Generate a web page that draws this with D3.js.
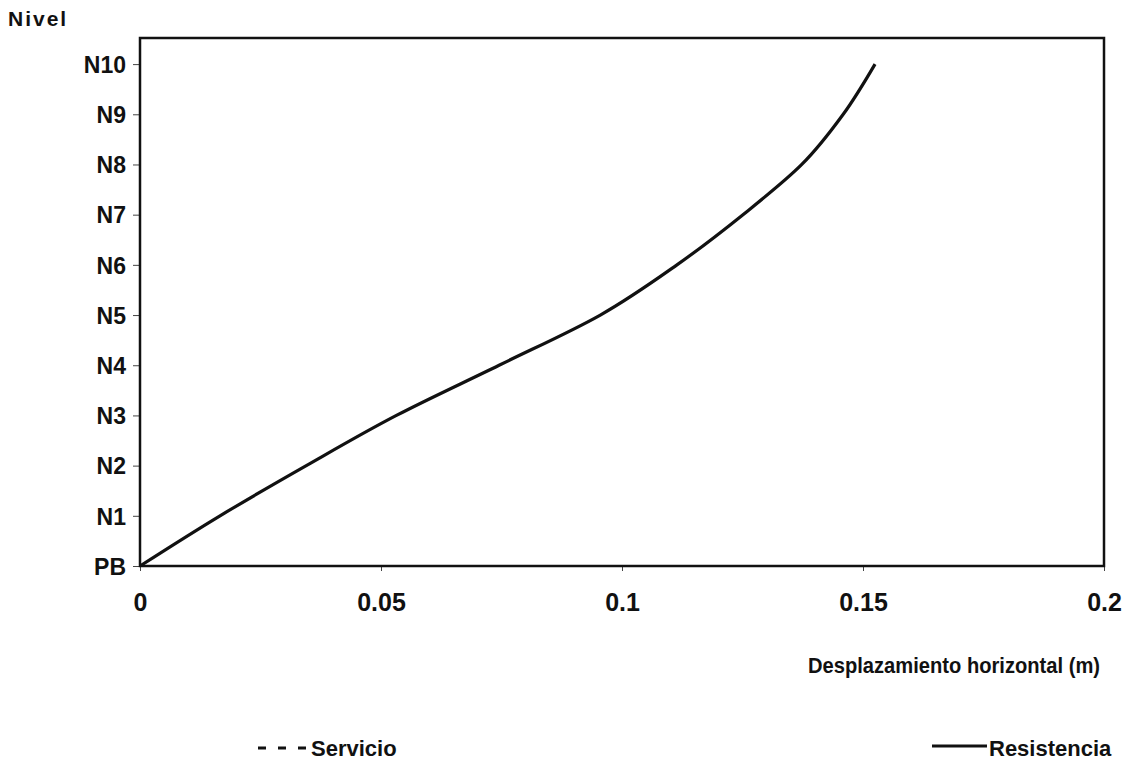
<!DOCTYPE html>
<html>
<head>
<meta charset="utf-8">
<script src="https://cdn.jsdelivr.net/npm/d3@7"></script>
<style>
  body { margin: 0; background: #fff; }
  text { font-family: "Liberation Sans", Arial, sans-serif; font-weight: bold; fill: #111; }
</style>
</head>
<body>
<div id="chart"></div>
<script>
// level labels (PB = planta baja) and their index along the y axis
var levels = ['PB', 'N1', 'N2', 'N3', 'N4', 'N5', 'N6', 'N7', 'N8', 'N9', 'N10']
// horizontal displacement (m) for the "Resistencia" series, one per level
var resistencia = [0, 0.0166, 0.0345, 0.0532, 0.0745, 0.0955, 0.1114, 0.1251, 0.1373, 0.1459, 0.1525]
var xTicks = [0, 0.05, 0.1, 0.15, 0.2]
var legendItems = ['Servicio', 'Resistencia']

const width = 1131
const height = 769
const margin = { top: 38, right: 27, bottom: 203, left: 140 }

var svg = d3.select('#chart')
  .append('svg')
  .attr('width', width)
  .attr('height', height)

var x = d3.scaleLinear()
  .domain([0, 0.2])
  .range([margin.left, width - margin.right])

var y = d3.scaleLinear()
  .domain([0, 10.52])
  .range([height - margin.bottom, margin.top])

// y axis with level names
var yAxis = d3.axisLeft(y)
  .tickValues(d3.range(levels.length))
  .tickFormat(i => levels[i])
  .tickSize(7)
  .tickPadding(7)

svg.append('g')
  .attr('transform', 'translate(' + margin.left + ',0)')
  .call(yAxis)
  .call(g => g.select('.domain').remove())
  .call(g => g.selectAll('line').attr('stroke', '#444').attr('stroke-width', 1))
  .call(g => g.selectAll('text').attr('font-size', 23).attr('dy', '0.36em'))

var xAxis = d3.axisBottom(x)
  .tickValues(xTicks)
  .tickFormat(d => String(d))
  .tickSize(5)
  .tickPadding(22)

svg.append('g')
  .attr('transform', 'translate(0,' + (height - margin.bottom) + ')')
  .call(xAxis)
  .call(g => g.select('.domain').remove())
  .call(g => g.selectAll('line').attr('stroke', '#444').attr('stroke-width', 1))
  .call(g => g.selectAll('text').attr('font-size', 25))

// plot frame
svg.append('rect')
  .attr('x', x(0))
  .attr('y', y(10.52))
  .attr('width', x(0.2) - x(0))
  .attr('height', y(0) - y(10.52))
  .attr('fill', 'none')
  .attr('stroke', '#111')
  .attr('stroke-width', 2.5)

// Resistencia curve
var line = d3.line()
  .x(d => x(d))
  .y((d, i) => y(i))
  .curve(d3.curveMonotoneY)

svg.append('path')
  .datum(resistencia)
  .attr('d', line)
  .attr('fill', 'none')
  .attr('stroke', '#111')
  .attr('stroke-width', 3.2)

// axis titles
svg.append('text')
  .attr('x', 8)
  .attr('y', 26)
  .attr('font-size', 21)
  .attr('letter-spacing', 2)
  .text('Nivel')

svg.append('text')
  .attr('x', 808)
  .attr('y', 673)
  .attr('font-size', 22)
  .attr('textLength', 292)
  .attr('lengthAdjust', 'spacingAndGlyphs')
  .text('Desplazamiento horizontal (m)')

// legend
var legend = svg.append('g')
legend.append('line')
  .attr('x1', 258).attr('x2', 306)
  .attr('y1', 748).attr('y2', 748)
  .attr('stroke', '#111')
  .attr('stroke-width', 3)
  .attr('stroke-dasharray', '8,12')
legend.append('text')
  .attr('x', 311).attr('y', 756)
  .attr('font-size', 22)
  .text(legendItems[0])

legend.append('line')
  .attr('x1', 932).attr('x2', 987)
  .attr('y1', 746).attr('y2', 746)
  .attr('stroke', '#111')
  .attr('stroke-width', 3)
legend.append('text')
  .attr('x', 989).attr('y', 756)
  .attr('font-size', 22)
  .text(legendItems[1])
</script>
</body>
</html>
